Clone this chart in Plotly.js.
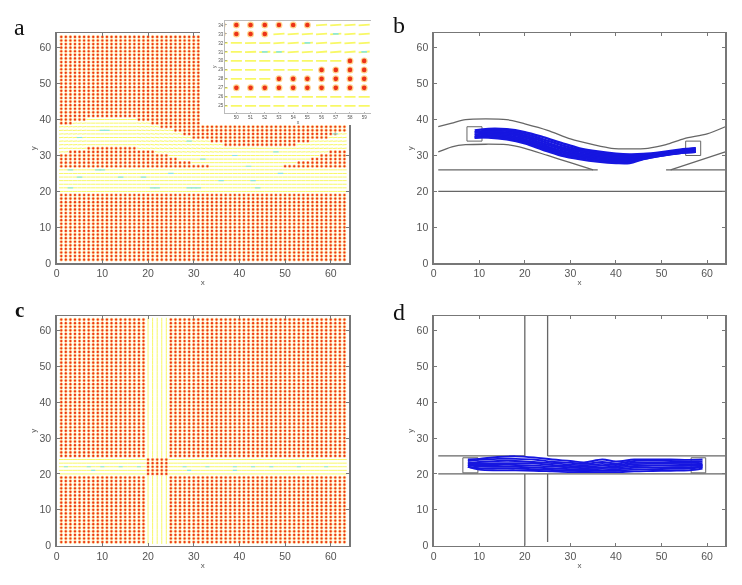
<!DOCTYPE html>
<html><head><meta charset="utf-8">
<script src="https://cdn.plot.ly/plotly-3.0.1.min.js"></script>
<style>html,body{margin:0;padding:0;background:#fff}#p{width:742px;height:585px;filter:blur(0.6px)}</style>
</head><body><div id="p"></div>
<script>
// ---- data ----
const gridCols=[1,2,3,4,5,6,7,8,9,10,11,12,13,14,15,16,17,18,19,20,21,22,23,24,25,26,27,28,29,30,31,32,33,34,35,36,37,38,39,40,41,42,43,44,45,46,47,48,49,50,51,52,53,54,55,56,57,58,59,60,61,62,63];
const gridRows=[1,2,3,4,5,6,7,8,9,10,11,12,13,14,15,16,17,18,19,20,21,22,23,24,25,26,27,28,29,30,31,32,33,34,35,36,37,38,39,40,41,42,43,44,45,46,47,48,49,50,51,52,53,54,55,56,57,58,59,60,61,62,63];
// panel a: highest and lowest occupied row of the curved road per column
const roadTop=[38,38,38,39,39,39,40,40,40,40,40,40,40,40,40,40,40,39,39,39,38,38,37,37,37,36,36,35,35,34,34,34,34,33,33,33,32,32,32,32,32,32,32,32,32,32,32,32,32,32,32,32,33,33,33,34,34,34,34,35,35,36,36];
const roadBot=[31,31,32,32,32,32,33,33,33,33,33,33,33,33,33,33,33,32,32,32,32,31,31,31,30,30,29,29,29,28,28,28,28,27,27,27,27,27,27,27,27,27,27,27,27,27,27,27,27,28,28,28,29,29,29,30,30,31,31,32,32,32,32];
const flowSlope=[.12,.12,.12,.12,.12,.12,0,0,0,0,0,0,0,0,0,0,0,-.15,-.15,-.15,-.18,-.18,-.18,-.18,-.18,-.18,-.18,-.18,-.18,-.18,-.18,-.15,-.15,-.15,-.15,-.15,-.05,-.05,-.05,-.05,-.05,-.05,-.05,-.05,0,0,0,0,0,0,.05,.05,.1,.1,.1,.12,.12,.12,.12,.12,.12,.12,.12];
const laneRowsA=[20,21,22,23,24,25,26];
const cyanAX=[5,9,10,3,3,21,22,29,30,31,44,43,49,19,10,11,5,29,48,39,32,42,61,14,36,25];
const cyanAY=[24,26,26,26,21,21,21,21,21,21,21,23,25,24,37,37,35,34,31,30,29,27,36,24,23,25];
// panel c: cross-road rows and columns
const laneRowsC=[20,21,22,23,24];
const laneColsC=[20,21,22,23,24];
const cyanCX=[2,7,10,14,18,28,33,39,43,47,53,59,8,29,39];
const cyanCY=[22,22,22,22,22,22,22,22,22,22,22,22,21,21,21];
// panel b outlines
const bTopX=[1,4,7,16,20,25,30,35,39,47,51,55,60,64];
const bTopY=[38,39,40,40,38.8,37,34.6,33,32,32,33,34.7,36,38];
const bBotX=[1,4,7,16,20,25,30,35];
const bBotY=[31,32.4,33,33,32,30,28,26];
const bLane1X=[1,36]; const bLane1Y=[26,26];
const bLane2X=[51,64]; const bLane2Y=[26,26];
const bRampX=[52,60,64]; const bRampY=[26,29.3,31];
const bFloorX=[1,64]; const bFloorY=[20,20];
const bBoxLX=[7.3,10.6,10.6,7.3,7.3]; const bBoxLY=[34,34,38,38,34];
const bBoxRX=[55.3,58.6,58.6,55.3,55.3]; const bBoxRY=[30,30,34,34,30];
// panel b trajectories
const bTrajX=[9,12,16,20,24,28,32,36,40,43,46,50,54,57.5];
const bTraj=[
 [37,37.4,37.3,36.5,35.1,33.5,32,31.1,30.5,30.3,30.4,30.9,31.6,32],
 [36.4,37,36.9,36,34.5,32.9,31.6,30.7,30.1,29.9,30.1,30.7,31.4,32],
 [36.4,36.6,36.4,35.5,33.9,32.3,31.1,30.2,29.7,29.6,29.9,30.5,31.2,31.8],
 [35.7,36.2,36,35,33.4,31.8,30.6,29.8,29.3,29.2,29.7,30.3,31,31.5],
 [35.7,35.9,35.6,34.5,32.9,31.3,30.2,29.4,28.9,28.9,29.5,30.2,30.9,31.3],
 [35,35.5,35.2,34.1,32.4,30.9,29.8,29,28.6,28.6,29.3,30.1,30.8,31],
 [35,35.2,34.8,33.7,32,30.4,29.4,28.7,28.2,28.2,29.1,30,30.7,31],
 [35,35,34.5,33.4,31.6,30,29,28.3,27.9,27.9,29,30,30.7,31]
];
// panel d outlines
const dV1aX=[20,20]; const dV1aY=[0,20];
const dV1bX=[20,20]; const dV1bY=[25,64];
const dV2aX=[25,25]; const dV2aY=[1,20];
const dV2bX=[25,25]; const dV2bY=[25,64];
const dH1aX=[1,20]; const dH1aY=[25,25];
const dH1bX=[25,64]; const dH1bY=[25,25];
const dH2X=[1,64]; const dH2Y=[20,20];
const dBoxLX=[6.4,9.7,9.7,6.4,6.4]; const dBoxLY=[20.3,20.3,24.5,24.5,20.3];
const dBoxRX=[56.5,59.7,59.7,56.5,56.5]; const dBoxRY=[20.3,20.3,24.5,24.5,20.3];
// panel d trajectories
const dTrajX=[7.5,10,14,18,22,26,30,33,37,40,44,48,52,56,59];
const dTraj=[
 [24,24.2,24.7,24.9,24.6,24,23.6,23.2,24,23.5,24,24,24,23.9,24],
 [23.6,23.9,24.2,24.2,24,23.4,23.1,22.8,23.3,22.9,23.6,23.7,23.6,23.5,23.5],
 [23,23.3,23.6,23.6,23.3,23,22.6,22.4,22.8,22.5,23.1,23.2,23.1,23.1,23],
 [23,22.9,23,23,22.9,22.5,22.2,22,22.3,22.1,22.7,22.8,22.8,22.7,22.5],
 [22.5,22.5,22.5,22.5,22.3,22.1,21.8,21.6,21.8,21.7,22.2,22.3,22.3,22.3,22.5],
 [22.5,22.1,22,22,21.8,21.6,21.3,21.2,21.4,21.3,21.7,21.8,21.9,21.9,22],
 [22,21.6,21.5,21.5,21.3,21.1,20.9,20.8,20.9,20.9,21.2,21.3,21.4,21.5,22],
 [22,21.2,21,21,20.9,20.7,20.5,20.5,20.5,20.5,20.7,20.8,20.9,21,21.5]
];
const tickVals=[0,10,20,30,40,50,60];
const tickTexts=['0','10','20','30','40','50','60'];
const insetTickX=[50,51,52,53,54,55,56,57,58,59];
const insetTickY=[25,26,27,28,29,30,31,32,33,34];
const panelLetters=['a','b','<b>c</b>','d'];

// ---- layout helpers (pixel frames) ----
const W=742,H=585;
const dx=(l,r)=>[l/W,r/W];
const dy=(t,b)=>[1-b/H,1-t/H];
const colL=[56.7,349], colR=[433.7,725.3];
const rowT=[33.3,263.3], rowB=[316,545.7];

const GREY='#777', TXT='#555';
function axis(domain,id,anchor,title,extra){
 return Object.assign({domain,anchor,range:[0,64],tickmode:'array',tickvals:tickVals,ticktext:tickTexts,ticks:'inside',ticklen:3,tickwidth:1,tickcolor:GREY,
  showline:true,linecolor:GREY,linewidth:1.5,mirror:'ticks',showgrid:false,zeroline:false,
  tickfont:{family:'Liberation Sans',size:10.5,color:TXT},
  title:{text:title,font:{family:'Liberation Sans',size:8,color:TXT},standoff:1}},extra||{});
}

const traces=[];
function dots(xs,ys,ax,ay,core,halo){
 traces.push({type:'scatter',mode:'markers',x:xs,y:ys,xaxis:ax,yaxis:ay,hoverinfo:'skip',showlegend:false,marker:{size:halo,color:'#ffb030',opacity:.55,line:{width:0}}});
 traces.push({type:'scatter',mode:'markers',x:xs,y:ys,xaxis:ax,yaxis:ay,hoverinfo:'skip',showlegend:false,marker:{size:core,color:'#ec3318',line:{width:0}}});
}
function segs(xs,ys,ax,ay,color,w){
 traces.push({type:'scatter',mode:'lines',x:xs,y:ys,xaxis:ax,yaxis:ay,hoverinfo:'skip',showlegend:false,connectgaps:false,line:{color,width:w}});
}
function outline(xs,ys,ax,ay,w,spline){
 traces.push({type:'scatter',mode:'lines',x:xs,y:ys,xaxis:ax,yaxis:ay,hoverinfo:'skip',showlegend:false,line:{color:'#666',width:w||1.3,shape:spline?'spline':'linear',smoothing:.7}});
}

// field of panels a / inset
function fieldA(ax,ay,core,halo,len,w){
 const rx=[],ry=[],lx=[],ly=[];
 for(const c of gridCols){const s=flowSlope[c-1];
  for(const r of gridRows){
   const lane=laneRowsA.includes(r)||(r>=roadBot[c-1]&&r<=roadTop[c-1]);
   if(lane){lx.push(c-len/2,c+len/2,null);
     const tilt=(r>=31)?s:0; ly.push(r-tilt*len/2,r+tilt*len/2,null);}
   else{rx.push(c);ry.push(r);}
  }}
 dots(rx,ry,ax,ay,core,halo);
 segs(lx,ly,ax,ay,'#f8f866',w);
}
function cyan(xs,ys,ax,ay,w,len){
 const lx=[],ly=[];
 xs.forEach((c,i)=>{lx.push(c-len/2,c+len/2,null);ly.push(ys[i],ys[i],null);});
 segs(lx,ly,ax,ay,'#8fe8d8',w);
}
// panel a
fieldA('x','y',2.2,3.6,.95,1);
cyan(cyanAX,cyanAY,'x','y',1.2,1.2);
// panel b
outline(bTopX,bTopY,'x2','y2',1.3,true);outline(bBotX,bBotY,'x2','y2',1.3,true);outline(bLane1X,bLane1Y,'x2','y2');outline(bLane2X,bLane2Y,'x2','y2');
outline(bRampX,bRampY,'x2','y2');outline(bFloorX,bFloorY,'x2','y2');outline(bBoxLX,bBoxLY,'x2','y2',1);outline(bBoxRX,bBoxRY,'x2','y2',1);
bTraj.forEach(t=>traces.push({type:'scatter',mode:'lines',x:bTrajX,y:t,xaxis:'x2',yaxis:'y2',hoverinfo:'skip',showlegend:false,line:{color:'#1616e0',width:2.4,shape:'spline'}}));
// panel c
(function(){
 const rx=[],ry=[],lx=[],ly=[],vx=[],vy=[];
 for(const c of gridCols)for(const r of gridRows){
  const hr=laneRowsC.includes(r),vc=laneColsC.includes(c);
  if(hr&&!vc){lx.push(c-.5,c+.5,null);ly.push(r,r,null);}
  else if(vc&&!hr){vx.push(c,c,null);vy.push(r-.5,r+.5,null);}
  else{rx.push(c);ry.push(r);}
 }
 dots(rx,ry,'x3','y3',2.2,3.6);
 segs(lx,ly,'x3','y3','#f8f866',1);
 segs(vx,vy,'x3','y3','#f8f866',1);
 cyan(cyanCX,cyanCY,'x3','y3',1.2,.9);
})();
// panel d
outline(dV1aX,dV1aY,'x4','y4');outline(dV1bX,dV1bY,'x4','y4');outline(dV2aX,dV2aY,'x4','y4');outline(dV2bX,dV2bY,'x4','y4');
outline(dH1aX,dH1aY,'x4','y4');outline(dH1bX,dH1bY,'x4','y4');outline(dH2X,dH2Y,'x4','y4');outline(dBoxLX,dBoxLY,'x4','y4',1);outline(dBoxRX,dBoxRY,'x4','y4',1);
dTraj.forEach(t=>traces.push({type:'scatter',mode:'lines',x:dTrajX,y:t,xaxis:'x4',yaxis:'y4',hoverinfo:'skip',showlegend:false,line:{color:'#1616e0',width:1.9,shape:'spline'}}));
// white patch subplot that hides the corner of panel a behind the inset
traces.push({type:'scatter',mode:'markers',x:[],y:[],xaxis:'x5',yaxis:'y5',hoverinfo:'skip',showlegend:false});
// inset
fieldA('x6','y6',4.6,7,.78,1.8);
cyan([52,53,55,57,59],[31,31,32,33,31],'x6','y6',1.8,.4);

const layout={width:W,height:H,margin:{l:0,r:0,t:0,b:0},paper_bgcolor:'#fff',plot_bgcolor:'#fff',showlegend:false,
 xaxis:axis(dx(...colL),'x','y','x'),yaxis:axis(dy(...rowT),'y','x','y',{ticklabelstandoff:2}),
 xaxis2:axis(dx(...colR),'x2','y2','x',{linewidth:1.3}),yaxis2:axis(dy(...rowT),'y2','x2','y',{linewidth:1.3,ticklabelstandoff:2}),
 xaxis3:axis(dx(...colL),'x3','y3','x'),yaxis3:axis(dy(...rowB),'y3','x3','y',{ticklabelstandoff:2}),
 xaxis4:axis(dx(...colR),'x4','y4','x',{linewidth:1.3}),yaxis4:axis(dy(...rowB),'y4','x4','y',{linewidth:1.3,ticklabelstandoff:2}),
 xaxis5:{domain:dx(200,371),anchor:'y5',visible:false,range:[0,1],fixedrange:true},
 yaxis5:{domain:dy(0,125),anchor:'x5',visible:false,range:[0,1],fixedrange:true},
 xaxis6:{domain:dx(225,371),anchor:'y6',range:[49.2,59.48],tickmode:'array',tickvals:insetTickX,ticktext:insetTickX.map(String),ticks:'inside',ticklen:1.5,tickwidth:.6,tickcolor:'#888',showline:true,linecolor:'#aaa',linewidth:.8,mirror:true,showgrid:false,zeroline:false,tickfont:{family:'Liberation Sans',size:4.5,color:TXT},title:{text:'x',font:{family:'Liberation Sans',size:5,color:TXT},standoff:1}},
 yaxis6:{domain:dy(20.5,113),anchor:'x6',range:[24.2,34.5],tickmode:'array',tickvals:insetTickY,ticktext:insetTickY.map(String),ticks:'inside',ticklen:1.5,tickwidth:.6,tickcolor:'#888',showline:true,linecolor:'#aaa',linewidth:.8,mirror:false,showgrid:false,zeroline:false,tickfont:{family:'Liberation Sans',size:4.5,color:TXT},title:{text:'y',font:{family:'Liberation Sans',size:5,color:TXT},standoff:1}},
 annotations:[[19,27],[399,25],[19,310],[399,312]].map((p,i)=>({xref:'paper',yref:'paper',x:p[0]/W,y:1-p[1]/H,text:panelLetters[i],showarrow:false,xanchor:'center',yanchor:'middle',font:{family:'Liberation Serif',size:i==2?21:24,color:'#111'}}))
};
Plotly.newPlot('p',traces,layout,{staticPlot:true,displayModeBar:false});
</script></body></html>
